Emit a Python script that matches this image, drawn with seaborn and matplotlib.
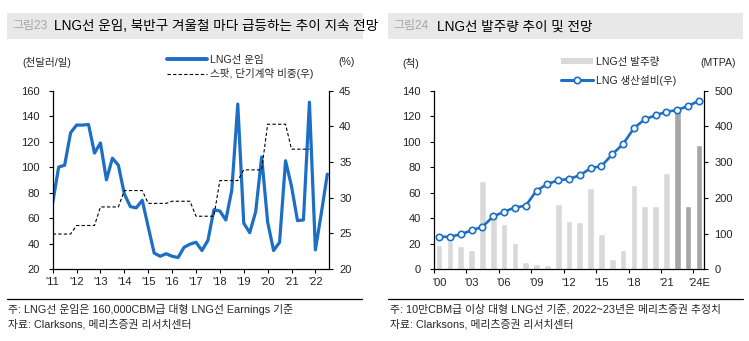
import numpy as np
import pandas as pd
import matplotlib
matplotlib.use("Agg")
import matplotlib.pyplot as plt
import seaborn as sns
from matplotlib.lines import Line2D
from matplotlib.patches import Rectangle, Patch

# ---------------- data ----------------
rate_start_year = 2011
lng_rates = [72, 100, 101.5, 127, 133, 133, 133.5, 111, 119, 90, 107, 101.5,
             79, 69, 68, 74, 53, 32.5, 30, 32, 30, 29, 37, 39.5,
             41, 34.5, 42.5, 66.5, 65.5, 58.5, 82, 149.5, 56, 48.5, 65, 108,
             57, 34.5, 41, 105, 85, 58, 58.5, 151, 35, 64, 94.5]
spot_share_years = list(range(2011, 2022))
spot_share = [24.9, 26.1, 28.7, 31.0, 29.2, 29.5, 27.4, 32.4, 33.9, 40.3, 36.8]
rate_xticks = list(range(2011, 2023))
rate_xticklabels = ["'11", "'12", "'13", "'14", "'15", "'16", "'17", "'18",
                    "'19", "'20", "'21", "'22"]

order_years = [str(y) for y in range(2000, 2024)] + ["2024E"]
orders = [19, 22, 18, 15, 69, 41, 35.5, 21, 5.5, 4.5, 3.5, 51, 38, 37, 64,
          28, 8, 15, 66, 50, 50, 75.5, 123.5, 50, 97.5]
capacity = [91, 91, 98, 109, 119, 148, 161, 173, 178, 220, 239, 249, 253,
            263, 283, 289, 322, 351, 395, 420, 431, 441, 446, 457, 472]
forecast = [False] * 22 + [True] * 3
order_xticklabels = ["'00", "'03", "'06", "'09", "'12", "'15", "'18", "'21", "'24E"]

# ---------------- style ----------------
sns.set_theme(style="ticks")
plt.rcParams["font.family"] = ["Liberation Sans", "Noto Sans CJK KR", "DejaVu Sans"]
BLUE = "#1c6fc4"
W, H = 749, 341
fig = plt.figure(figsize=(W / 100, H / 100), dpi=100)

def fx(px):
    return px / W

def fy(py):
    return 1 - py / H

TICK_FS = 8
TXT_FS = 7.6
NOTE_FS = 7.8
TITLE_FS = 9.8

# title boxes
for x0, x1 in [(7, 363), (388, 743)]:
    fig.patches.append(Rectangle((fx(x0), fy(39)), fx(x1 - x0), 26 / H,
                                 transform=fig.transFigure, facecolor="#e8e8e8",
                                 edgecolor="none", zorder=0))
fig.text(fx(12), fy(26.5), "그림23", color="#a6a6a6", fontsize=8.6, va="center")
fig.text(fx(54), fy(26.5), "LNG선 운임, 북반구 겨울철 마다 급등하는 추이 지속 전망",
         color="black", fontsize=TITLE_FS, va="center")
fig.text(fx(393), fy(26.5), "그림24", color="#a6a6a6", fontsize=8.6, va="center")
fig.text(fx(437), fy(26.5), "LNG선 발주량 추이 및 전망", color="black",
         fontsize=TITLE_FS, va="center")

# ---------------- left chart ----------------
ax1 = fig.add_axes([fx(52.7), fy(269), fx(276.3), 178.3 / H])
rate_x = rate_start_year + 0.25 * np.arange(len(lng_rates))
sns.lineplot(x=rate_x, y=lng_rates, ax=ax1, color=BLUE, lw=2.3)
ax1b = ax1.twinx()
spot_x = spot_share_years[0] + 0.25 * np.arange(4 * len(spot_share))
spot_y = np.repeat(spot_share, 4)
sns.lineplot(x=spot_x, y=spot_y, ax=ax1b, color="black", lw=0.8,
             linestyle=(0, (3, 2)))
ax1.set_xlim(2011, 2022.57)
ax1.set_ylim(20, 160)
ax1b.set_ylim(20, 45)
ax1.set_xticks(rate_xticks)
ax1.set_xticklabels(rate_xticklabels)
ax1.set_yticks(range(20, 161, 20))
ax1b.set_yticks(range(20, 46, 5))

# ---------------- right chart ----------------
ax2 = fig.add_axes([fx(433.7), fy(269.3), fx(270.6), 178.6 / H])
df = pd.DataFrame({"year": order_years, "orders": orders,
                   "kind": np.where(forecast, "f", "a")})
sns.barplot(data=df, x="year", y="orders", hue="kind",
            palette={"a": "#d9d9d9", "f": "#a6a6a6"}, dodge=False, width=0.62,
            saturation=1, legend=False, ax=ax2)
ax2b = ax2.twinx()
sns.lineplot(x=np.arange(len(capacity)), y=capacity, ax=ax2b, color=BLUE, lw=1.9,
             marker="o", markersize=4.6, markerfacecolor="white",
             markeredgecolor=BLUE, markeredgewidth=1.2)
ax2.set_xlim(-0.5, len(order_years) - 0.5)
ax2.set_ylim(0, 140)
ax2b.set_ylim(0, 500)
ax2.set_xticks(np.arange(0, len(order_years), 3))
ax2.set_xticklabels(order_xticklabels)
ax2.set_xticks(np.arange(0, len(order_years), 3) - 0.5, minor=True)
ax2.set_yticks(range(0, 141, 20))
ax2b.set_yticks(range(0, 501, 100))

for a in (ax1, ax1b, ax2, ax2b):
    a.set_xlabel("")
    a.set_ylabel("")
    a.spines["top"].set_visible(False)
    for s in a.spines.values():
        s.set_color("black")
        s.set_linewidth(0.9)
for a in (ax1, ax2):
    a.spines["right"].set_visible(False)
for a in (ax1b, ax2b):
    a.spines["left"].set_visible(False)
    a.spines["bottom"].set_visible(False)
    a.tick_params(axis="y", direction="out", length=3, width=0.8, color="black",
                  labelsize=TICK_FS, pad=4.3, labelcolor="#222222")
for a in (ax1, ax2):
    a.tick_params(axis="y", direction="out", length=3, width=0.8, color="black",
                  labelsize=TICK_FS, pad=6.5, labelcolor="#222222")
ax1.tick_params(axis="x", direction="out", length=3, width=0.8, color="black",
                labelsize=TICK_FS, pad=3, labelcolor="#222222")
ax2.tick_params(axis="x", which="major", length=0, labelsize=TICK_FS, pad=6,
                labelcolor="#222222")
ax2.tick_params(axis="x", which="minor", direction="out", length=3, width=0.8,
                color="black")
for a in (ax1, ax1b, ax2, ax2b):
    a.patch.set_visible(False)
    a.grid(False)

# axis unit labels
fig.text(fx(22), fy(62), "(천달러/일)", fontsize=TXT_FS, va="center")
fig.text(fx(338), fy(62), "(%)", fontsize=TXT_FS, va="center")
fig.text(fx(402), fy(63), "(척)", fontsize=TXT_FS, va="center")
fig.text(fx(700), fy(63), "(MTPA)", fontsize=TXT_FS, va="center")

# legends
h1 = [Line2D([], [], color=BLUE, lw=2.8),
      Line2D([], [], color="black", lw=0.8, linestyle=(0, (3, 2)))]
fig.legend(h1, ["LNG선 운임", "스팟, 단기계약 비중(우)"], loc="upper left",
           bbox_to_anchor=(fx(167), fy(54.5)), frameon=False, fontsize=TXT_FS,
           handlelength=3.8, handletextpad=0.3, borderpad=0, borderaxespad=0,
           labelspacing=0.35)
h2 = [Patch(facecolor="#d9d9d9", edgecolor="none"),
      Line2D([], [], color=BLUE, lw=2.2, marker="o", markersize=4.6,
             markerfacecolor="white", markeredgecolor=BLUE, markeredgewidth=1.2)]
fig.legend(h2, ["LNG선 발주량", "LNG 생산설비(우)"], loc="upper left",
           bbox_to_anchor=(fx(561), fy(56.5)), frameon=False, fontsize=TXT_FS,
           handlelength=3.0, handleheight=0.55, handletextpad=0.3, borderpad=0,
           borderaxespad=0, labelspacing=0.8)

# separators and notes
for x0, x1 in [(7, 362), (388, 743)]:
    fig.add_artist(Line2D([fx(x0), fx(x1)], [fy(299), fy(299)], color="black",
                          lw=0.9, transform=fig.transFigure))
fig.text(fx(8), fy(309), "주: LNG선 운임은 160,000CBM급 대형 LNG선 Earnings 기준",
         fontsize=NOTE_FS, va="center")
fig.text(fx(8), fy(324), "자료: Clarksons, 메리츠증권 리서치센터", fontsize=NOTE_FS,
         va="center")
fig.text(fx(390), fy(309), "주: 10만CBM급 이상 대형 LNG선 기준, 2022~23년은 메리츠증권 추정치",
         fontsize=NOTE_FS, va="center")
fig.text(fx(390), fy(324), "자료: Clarksons, 메리츠증권 리서치센터", fontsize=NOTE_FS,
         va="center")

fig.savefig("out.png", dpi=100)
